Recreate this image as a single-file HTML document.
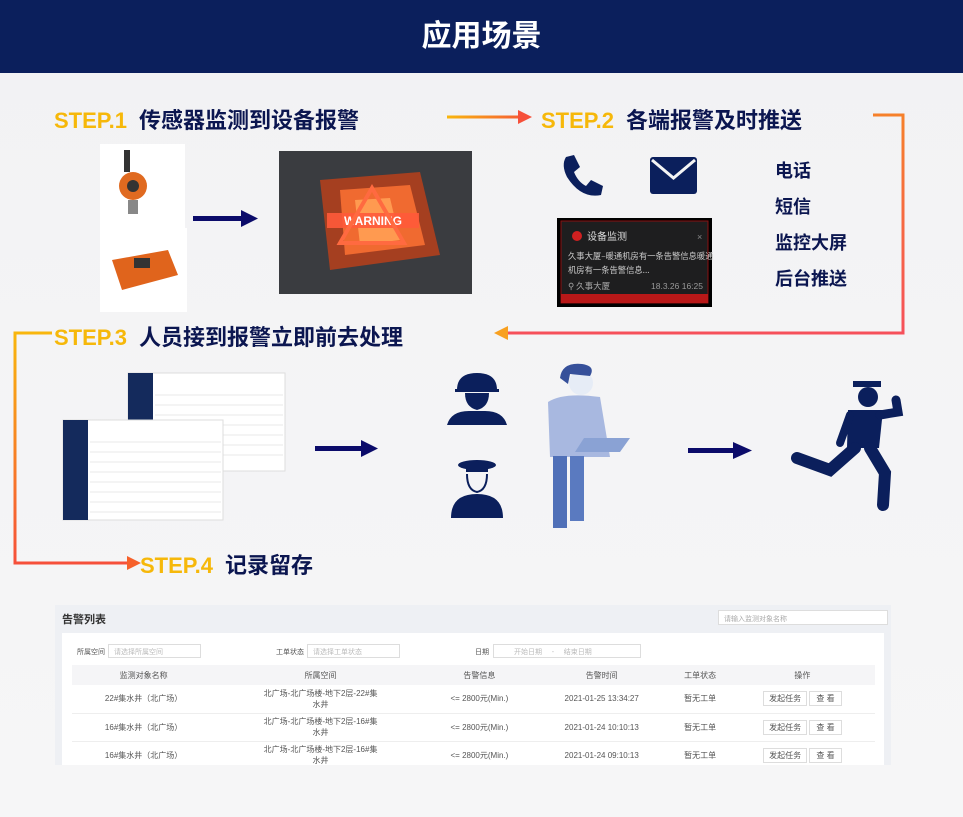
<!DOCTYPE html>
<html><head><meta charset="utf-8"><style>
*{margin:0;padding:0;box-sizing:border-box}
body{width:963px;height:817px;position:relative;overflow:hidden;background:linear-gradient(#f2f2f4,#f6f6f7);font-family:"Liberation Sans","Noto Sans CJK SC",sans-serif}
.a{position:absolute}
.hdr{left:0;top:0;width:963px;height:73px;background:#0b1f5c;color:#fff;font-size:30px;font-weight:bold;text-align:center;line-height:73px}
.st{font-size:22px;font-weight:bold;color:#0b1650;white-space:nowrap}
.st b{color:#f6b80a;margin-right:12px}
.lab{font-size:18px;font-weight:bold;color:#0b1650}
.t td,.t th{font-size:8px;color:#555;text-align:center;font-weight:normal}
</style></head><body>
<div class="a hdr">应用场景</div>
<svg class="a" style="left:0;top:0" width="963" height="817">
<defs>
<linearGradient id="g1" gradientUnits="userSpaceOnUse" x1="447" y1="0" x2="532" y2="0"><stop offset="0" stop-color="#f8b60c"/><stop offset="1" stop-color="#f6503a"/></linearGradient>
<linearGradient id="g2" x1="0" y1="0" x2="0" y2="1"><stop offset="0" stop-color="#f6802a"/><stop offset="1" stop-color="#f6505a"/></linearGradient>
<linearGradient id="g3" x1="0" y1="0" x2="0" y2="1"><stop offset="0" stop-color="#f8b60c"/><stop offset="1" stop-color="#f6503a"/></linearGradient>
</defs>
<rect x="447" y="115.5" width="74" height="3" fill="url(#g1)"/>
<polygon points="518,110 532,117 518,124" fill="#f6503a"/>
<polyline points="873,115 903,115 903,333 505,333" fill="none" stroke="url(#g2)" stroke-width="3"/>
<polygon points="508,326 494,333 508,340" fill="#f8a020"/>
<polyline points="52,333 15,333 15,563 130,563" fill="none" stroke="url(#g3)" stroke-width="3"/>
<polygon points="127,556 141,563 127,570" fill="#f6602a"/>
<rect x="193" y="216" width="50" height="5" fill="#0b0b6a"/><polygon points="241,210 258,218.5 241,227" fill="#0b0b6a"/>
<rect x="315" y="446" width="48" height="5" fill="#0b0b6a"/><polygon points="361,440 378,448.5 361,457" fill="#0b0b6a"/>
<rect x="688" y="448" width="46" height="5" fill="#0b0b6a"/><polygon points="733,442 752,450.5 733,459" fill="#0b0b6a"/>
<rect x="100" y="144" width="85" height="84" fill="#fff"/>
<rect x="124" y="150" width="6" height="22" fill="#333"/><circle cx="133" cy="186" r="14" fill="#e06a20"/><circle cx="133" cy="186" r="6" fill="#333"/><rect x="128" y="200" width="10" height="14" fill="#888"/>
<rect x="100" y="228" width="87" height="84" fill="#fff"/>
<polygon points="112,260 168,250 178,275 122,290" fill="#e0641c"/><rect x="134" y="258" width="16" height="10" fill="#333"/>
<rect x="279" y="151" width="193" height="143" fill="#3a3c40"/>
<polygon points="320,180 420,172 440,255 330,270" fill="#c04018" opacity=".8"/>
<polygon points="340,190 410,185 425,245 345,255" fill="#f06a30"/>
<polygon points="355,200 390,198 400,240 360,245" fill="#ff9a50"/>
<rect x="327" y="213" width="92" height="15" fill="#ff5a3a" opacity=".9"/>
<text x="373" y="225" fill="#fff" font-size="12" font-weight="bold" text-anchor="middle" font-family="Liberation Sans">WARNING</text>
<polygon points="372,188 340,243 404,243" fill="none" stroke="#ff6a40" stroke-width="4"/>
<path d="M566,157 l8,-2 l6,12 l-6,5 q4,10 12,14 l5,-6 l12,6 l-2,9 q-20,4 -34,-18 q-6,-12 -1,-20z" fill="#0b1f5c"/>
<rect x="650" y="157" width="47" height="37" rx="3" fill="#0b1f5c"/><polyline points="652,160 673.5,178 695,160" fill="none" stroke="#f4f4f5" stroke-width="3"/>
<rect x="557" y="218" width="155" height="89" fill="#000"/>
<rect x="561" y="221" width="147" height="82" fill="#1e1e1f" stroke="#8a1010"/>
<rect x="561" y="294" width="147" height="9" fill="#b81818"/>
<circle cx="577" cy="236" r="5" fill="#d02020"/>
<text x="587" y="240" fill="#ddd" font-size="10" font-family="Noto Sans CJK SC">设备监测</text>
<text x="697" y="240" fill="#888" font-size="9">×</text>
<text x="568" y="259" fill="#ccc" font-size="8.3" font-family="Noto Sans CJK SC">久事大厦–暖通机房有一条告警信息暖通</text>
<text x="568" y="273" fill="#ccc" font-size="8.3" font-family="Noto Sans CJK SC">机房有一条告警信息...</text>
<text x="568" y="289" fill="#aaa" font-size="8.5" font-family="Noto Sans CJK SC">⚲ 久事大厦</text>
<text x="703" y="289" fill="#999" font-size="8.5" text-anchor="end">18.3.26 16:25</text>
<rect x="128" y="373" width="157" height="98" fill="#fff" stroke="#ddd"/><rect x="128" y="373" width="25" height="98" fill="#142a5c"/>
<g stroke="#e8e8e8"><line x1="155" y1="395" x2="283" y2="395"/><line x1="155" y1="405" x2="283" y2="405"/><line x1="155" y1="415" x2="283" y2="415"/><line x1="155" y1="425" x2="283" y2="425"/><line x1="155" y1="435" x2="283" y2="435"/><line x1="155" y1="445" x2="283" y2="445"/><line x1="155" y1="455" x2="283" y2="455"/></g>
<rect x="63" y="420" width="160" height="100" fill="#fff" stroke="#ddd"/><rect x="63" y="420" width="25" height="100" fill="#142a5c"/>
<g stroke="#e8e8e8"><line x1="90" y1="442" x2="221" y2="442"/><line x1="90" y1="452" x2="221" y2="452"/><line x1="90" y1="462" x2="221" y2="462"/><line x1="90" y1="472" x2="221" y2="472"/><line x1="90" y1="482" x2="221" y2="482"/><line x1="90" y1="492" x2="221" y2="492"/><line x1="90" y1="502" x2="221" y2="502"/><line x1="90" y1="512" x2="221" y2="512"/></g>
<path d="M457,390 q0,-17 20,-17 q20,0 20,17z" fill="#0b1f5c"/><rect x="455" y="389" width="44" height="3" fill="#0b1f5c"/>
<path d="M465,393 h24 q0,14 -12,17 q-12,-3 -12,-17z" fill="#0b1f5c"/>
<path d="M447,425 q4,-14 22,-14 h16 q18,0 22,14z" fill="#0b1f5c"/>
<ellipse cx="477" cy="465" rx="19" ry="5" fill="#0b1f5c"/><rect x="466" y="466" width="22" height="6" fill="#0b1f5c"/>
<path d="M467,474 q0,16 10,18 q10,-2 10,-18" fill="none" stroke="#0b1f5c" stroke-width="2"/>
<path d="M451,518 q0,-24 26,-24 q26,0 26,24z" fill="#0b1f5c"/>
<circle cx="581" cy="383" r="12" fill="#e6ecf6"/><path d="M560,378 q2,-16 22,-14 q14,2 8,12 l-20,-2 l-2,10z" fill="#36509a"/>
<path d="M548,402 q15,-10 52,-5 l10,60 h-60z" fill="#a8b8e0"/>
<rect x="553" y="456" width="14" height="72" fill="#5070b8"/><rect x="570" y="456" width="14" height="65" fill="#5a7ac0"/>
<polygon points="584,438 630,438 620,452 575,452" fill="#8aa2d4"/>
<rect x="853" y="381" width="28" height="6" fill="#0b1f5c"/><circle cx="868" cy="397" r="10" fill="#0b1f5c"/>
<path d="M848,410 h35 l-4,38 h-32z" fill="#0b1f5c"/>
<path d="M880,415 l18,-3 l-2,-12" stroke="#0b1f5c" stroke-width="9" fill="none" stroke-linecap="round"/>
<path d="M850,415 l-10,28" stroke="#0b1f5c" stroke-width="8" fill="none" stroke-linecap="round"/>
<path d="M855,448 l-25,22 l-33,-12" stroke="#0b1f5c" stroke-width="12" fill="none" stroke-linecap="round"/>
<path d="M870,448 l15,25 l-2,32" stroke="#0b1f5c" stroke-width="12" fill="none" stroke-linecap="round"/>
</svg>
<div class="a st" style="left:54px;top:103px"><b>STEP.1</b>传感器监测到设备报警</div>
<div class="a st" style="left:541px;top:103px"><b>STEP.2</b>各端报警及时推送</div>
<div class="a st" style="left:54px;top:320px"><b>STEP.3</b>人员接到报警立即前去处理</div>
<div class="a st" style="left:140px;top:548px"><b>STEP.4</b>记录留存</div>
<div class="a lab" style="left:775px;top:157px">电话</div>
<div class="a lab" style="left:775px;top:193px">短信</div>
<div class="a lab" style="left:775px;top:229px">监控大屏</div>
<div class="a lab" style="left:775px;top:265px">后台推送</div>
<div class="a" style="left:55px;top:605px;width:836px;height:160px;background:#eef0f4"></div>
<div class="a" style="left:62px;top:611px;font-size:11px;font-weight:bold;color:#333">告警列表</div>
<div class="a" style="left:718px;top:610px;width:170px;height:15px;background:#fff;border:1px solid #ddd;font-size:7px;color:#aaa;padding:3px 5px">请输入监测对象名称</div>
<div class="a" style="left:62px;top:633px;width:822px;height:132px;background:#fff"></div>
<div class="a" style="left:77px;top:647px;font-size:7px;color:#555">所属空间</div>
<div class="a" style="left:108px;top:644px;width:93px;height:14px;border:1px solid #ddd;font-size:7px;color:#bbb;padding:2px 5px">请选择所属空间</div>
<div class="a" style="left:276px;top:647px;font-size:7px;color:#555">工单状态</div>
<div class="a" style="left:307px;top:644px;width:93px;height:14px;border:1px solid #ddd;font-size:7px;color:#bbb;padding:2px 5px">请选择工单状态</div>
<div class="a" style="left:475px;top:647px;font-size:7px;color:#555">日期</div>
<div class="a" style="left:493px;top:644px;width:148px;height:14px;border:1px solid #ddd;font-size:7px;color:#bbb;padding:2px 20px">开始日期 &nbsp;&nbsp;&nbsp;&nbsp;- &nbsp;&nbsp;&nbsp;&nbsp;结束日期</div>
<table class="a t" style="left:72px;top:665px;width:803px;border-collapse:collapse">
<tr style="background:#f5f5f7;height:20px"><th>监测对象名称</th><th>所属空间</th><th>告警信息</th><th>告警时间</th><th>工单状态</th><th>操作</th></tr>
<tr style="height:28px;border-bottom:1px solid #eee"><td>22#集水井（北广场）</td><td>北广场-北广场楼-地下2层-22#集<br>水井</td><td>&lt;= 2800元(Min.)</td><td>2021-01-25 13:34:27</td><td>暂无工单</td><td><span style="border:1px solid #ddd;padding:2px 5px">发起任务</span> <span style="border:1px solid #ddd;padding:2px 6px">查 看</span></td></tr>
<tr style="height:28px;border-bottom:1px solid #eee"><td>16#集水井（北广场）</td><td>北广场-北广场楼-地下2层-16#集<br>水井</td><td>&lt;= 2800元(Min.)</td><td>2021-01-24 10:10:13</td><td>暂无工单</td><td><span style="border:1px solid #ddd;padding:2px 5px">发起任务</span> <span style="border:1px solid #ddd;padding:2px 6px">查 看</span></td></tr>
<tr style="height:28px"><td>16#集水井（北广场）</td><td>北广场-北广场楼-地下2层-16#集<br>水井</td><td>&lt;= 2800元(Min.)</td><td>2021-01-24 09:10:13</td><td>暂无工单</td><td><span style="border:1px solid #ddd;padding:2px 5px">发起任务</span> <span style="border:1px solid #ddd;padding:2px 6px">查 看</span></td></tr>
</table>
</body></html>
